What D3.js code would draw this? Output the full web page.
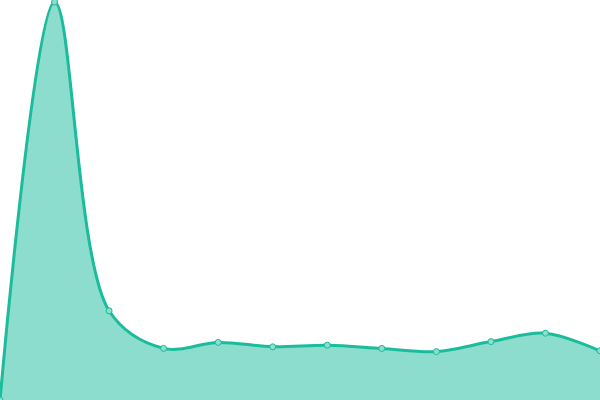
<!DOCTYPE html>
<html>
<head>
<meta charset="utf-8">
<script src="https://cdn.jsdelivr.net/npm/d3@7"></script>
<style>
  html, body { margin: 0; padding: 0; background: #fff; }
  svg { display: block; }
</style>
</head>
<body>
<svg id="chart"></svg>
<script>
// Data
const categories = ['1', '2', '3', '4', '5', '6', '7', '8', '9', '10', '11', '12'];
const values = [0, 99.5, 22.3, 12.9, 14.4, 13.3, 13.7, 12.9, 12.1, 14.6, 16.7, 12.3];

const width = 600;
const height = 400;
const lineColor = '#1abc9c';

const svg = d3.select('#chart')
  .attr('width', width)
  .attr('height', height);

// Scales
const xScale = d3.scalePoint()
  .domain(categories)
  .range([0, width]);

const yScale = d3.scaleLinear()
  .domain([0, 100])
  .range([height, 0]);

// Area + line
const curve = d3.curveCatmullRom;

const area = d3.area()
  .x((d, i) => xScale(categories[i]))
  .y0(yScale(0))
  .y1(d => yScale(d))
  .curve(curve);

const line = d3.line()
  .x((d, i) => xScale(categories[i]))
  .y(d => yScale(d))
  .curve(curve);

svg.append('path')
  .datum(values)
  .attr('d', area)
  .attr('fill', lineColor)
  .attr('fill-opacity', 0.5);

svg.append('path')
  .datum(values)
  .attr('d', line)
  .attr('fill', 'none')
  .attr('stroke', lineColor)
  .attr('stroke-width', 3);

// Points
svg.selectAll('circle.dot')
  .data(values)
  .join('circle')
  .attr('class', 'dot')
  .attr('cx', (d, i) => xScale(categories[i]))
  .attr('cy', d => yScale(d))
  .attr('r', 3)
  .attr('fill', '#8ddfcd')
  .attr('stroke', lineColor)
  .attr('stroke-width', 1);
</script>
</body>
</html>
